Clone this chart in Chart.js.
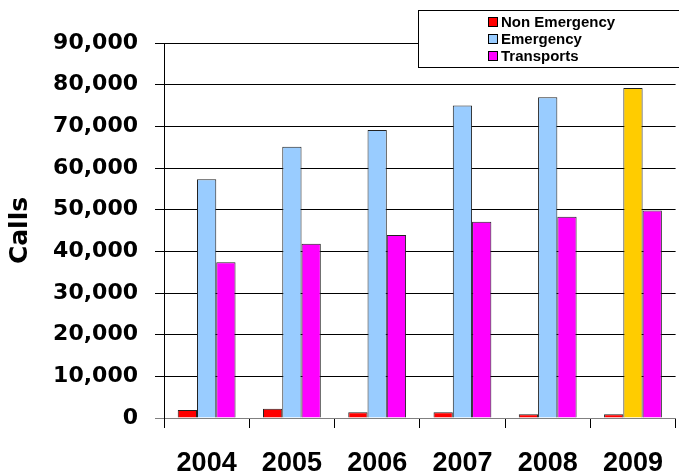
<!DOCTYPE html>
<html>
<head>
<meta charset="utf-8">
<script src="https://cdn.jsdelivr.net/npm/chart.js@4"></script>
<style>
  html, body { margin: 0; padding: 0; background: #fff; overflow: hidden; }
  #wrap { width: 682px; height: 476px; }
</style>
</head>
<body>
<div id="wrap"><canvas id="c" width="682" height="476"></canvas></div>
<script>
// Yearly call volumes
const years = ['2004', '2005', '2006', '2007', '2008', '2009'];
const nonEmergency = [1900, 2200, 1400, 1400, 900, 900];
const emergency = [57300, 65100, 69100, 75000, 77000, 79200];
const transports = [37400, 41800, 43900, 47100, 48300, 49800];
const seriesNames = ['Non Emergency', 'Emergency', 'Transports'];
const yTicks = [0, 10000, 20000, 30000, 40000, 50000, 60000, 70000, 80000, 90000];

const RED = '#FF0000', BLUE = '#99CCFF', MAGENTA = '#FF00FF', GOLD = '#FFCC00';
// latest year's emergency bar is highlighted
const emergencyColors = years.map((y, i) => i === years.length - 1 ? GOLD : BLUE);

// Boxed legend in the upper right corner
const boxLegend = {
  id: 'boxLegend',
  afterDraw(chart) {
    const ctx = chart.ctx;
    ctx.save();
    ctx.fillStyle = '#fff';
    ctx.strokeStyle = '#000';
    ctx.lineWidth = 1;
    ctx.fillRect(418.5, 10.5, 300, 57);
    ctx.strokeRect(418.5, 10.5, 300, 57);
    const swatches = [RED, BLUE, MAGENTA];
    ctx.font = 'bold 15px "Liberation Sans", Arial, sans-serif';
    ctx.textBaseline = 'middle';
    ctx.textAlign = 'left';
    seriesNames.forEach((name, i) => {
      const cy = 22 + i * 17;
      ctx.fillStyle = swatches[i];
      ctx.fillRect(488.5, cy - 4.5, 9, 9);
      ctx.strokeStyle = '#000';
      ctx.strokeRect(488.5, cy - 4.5, 9, 9);
      ctx.fillStyle = '#000';
      ctx.fillText(name, 501, cy + 1);
    });
    ctx.restore();
  }
};

new Chart(document.getElementById('c'), {
  type: 'bar',
  data: {
    labels: years,
    datasets: [
      { label: seriesNames[0], data: nonEmergency, backgroundColor: RED, borderColor: '#222', borderWidth: 1 },
      { label: seriesNames[1], data: emergency, backgroundColor: emergencyColors, borderColor: '#222', borderWidth: 1 },
      { label: seriesNames[2], data: transports, backgroundColor: MAGENTA, borderColor: '#222', borderWidth: 1 }
    ]
  },
  options: {
    responsive: false,
    animation: false,
    devicePixelRatio: 1,
    layout: { padding: { top: 43, right: 0, bottom: 0, left: 0 } },
    datasets: { bar: { categoryPercentage: 0.678, barPercentage: 1 } },
    plugins: { legend: { display: false }, tooltip: { enabled: false } },
    scales: {
      x: {
        offset: true,
        grid: { offset: true, drawOnChartArea: false, drawTicks: true, tickLength: 10, color: '#000' },
        border: { display: true, color: '#808080', width: 1 },
        ticks: {
          color: '#000',
          padding: 19,
          maxRotation: 0,
          font: { family: '"Liberation Sans", Arial, sans-serif', size: 27, weight: 'bold' }
        },
        afterFit(scale) { scale.height = 58; }
      },
      y: {
        min: 0,
        max: 90000,
        afterBuildTicks(scale) { scale.ticks = yTicks.map(v => ({ value: v })); },
        grid: {
          drawTicks: true,
          tickLength: 9,
          color: ctx => (ctx.tick && ctx.tick.value === 0) ? '#808080' : '#000'
        },
        border: { display: true, color: '#000', width: 1 },
        ticks: {
          color: '#000',
          padding: 17,
          font: { family: '"DejaVu Sans", sans-serif', size: 22, weight: 'bold' },
          callback: v => v.toLocaleString('en-US')
        },
        title: {
          display: true,
          text: 'Calls',
          color: '#000',
          padding: { top: 5, bottom: 0 },
          font: { family: '"DejaVu Sans", sans-serif', size: 25, weight: 'bold' }
        },
        afterFit(scale) { scale.width = 164; }
      }
    }
  },
  plugins: [boxLegend]
});
</script>
</body>
</html>
